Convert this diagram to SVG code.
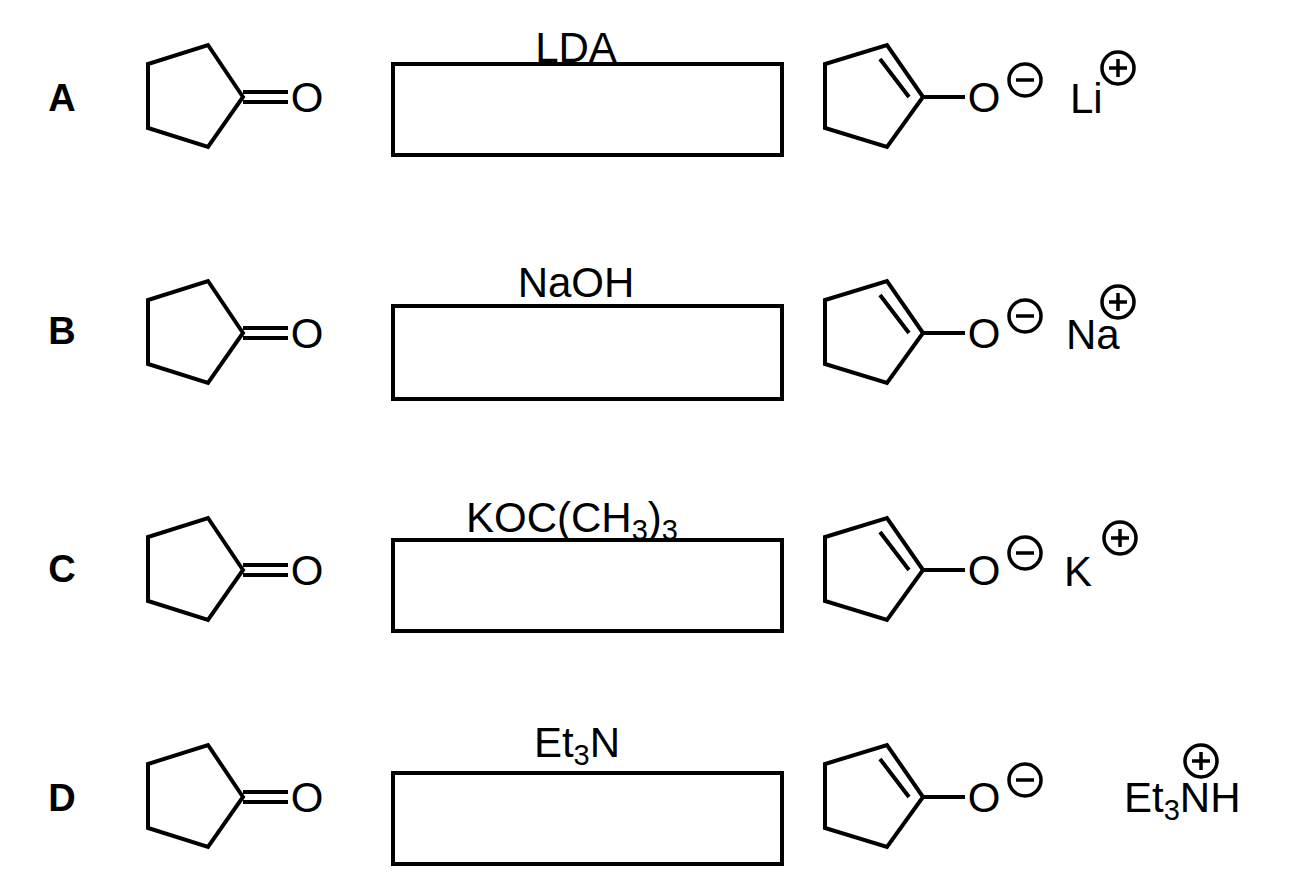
<svg xmlns="http://www.w3.org/2000/svg" width="1294" height="876" viewBox="0 0 1294 876">
<defs>
<style>
.b{fill:none;stroke:#000;stroke-width:4;stroke-linejoin:miter}
.t{font-family:"Liberation Sans",Arial,sans-serif;font-size:42px;fill:#000}
.l{font-family:"Liberation Sans",Arial,sans-serif;font-size:38px;font-weight:bold;fill:#000}
.c{fill:none;stroke:#000;stroke-width:3.5}
</style>
<g id="ketone">
<path class="b" d="M243,97 L208,45 L148,64 L148,128 L208,147 Z"/>
<path class="b" d="M243,92 H288 M243,102 H288"/>
<text class="t" x="307" y="112" text-anchor="middle">O</text>
</g>
<g id="enolate">
<path class="b" d="M923,97 L887,45 L825,64 L825,128 L887,147 Z M880,59 L909,97 M923,97 H965"/>
<text class="t" x="984" y="112" text-anchor="middle">O</text>
<circle class="c" cx="1025" cy="80" r="16"/>
<path class="c" d="M1016,80 H1034"/>
</g>
<g id="plus"><circle class="c" cx="0" cy="0" r="16"/><path class="c" d="M-9,0 H9 M0,-9 V9"/></g>
</defs>
<g id="rowA">
<text class="l" x="62" y="111" text-anchor="middle">A</text>
<use href="#ketone"/>
<rect class="b" x="393" y="64" width="389" height="91"/>
<text class="t" x="576" y="62" text-anchor="middle">LDA</text>
<use href="#enolate"/>
<text class="t" x="1070" y="113">Li</text>
<use href="#plus" x="1118" y="68"/>
</g>
<g id="rowB">
<text class="l" x="62" y="344" text-anchor="middle">B</text>
<use href="#ketone" y="236"/>
<rect class="b" x="393" y="306" width="389" height="93"/>
<text class="t" x="576" y="297" text-anchor="middle">NaOH</text>
<use href="#enolate" y="236"/>
<text class="t" x="1066" y="349">Na</text>
<use href="#plus" x="1118" y="302"/>
</g>
<g id="rowC">
<text class="l" x="62" y="582" text-anchor="middle">C</text>
<use href="#ketone" y="473"/>
<rect class="b" x="393" y="540" width="389" height="91"/>
<text class="t" x="466" y="532">KOC(CH<tspan font-size="29" dy="8">3</tspan><tspan dy="-8">)</tspan><tspan font-size="29" dy="8">3</tspan></text>
<use href="#enolate" y="473"/>
<text class="t" x="1064" y="586">K</text>
<use href="#plus" x="1120" y="538"/>
</g>
<g id="rowD">
<text class="l" x="62" y="811" text-anchor="middle">D</text>
<use href="#ketone" y="700"/>
<rect class="b" x="393" y="773" width="389" height="91"/>
<text class="t" x="577" y="757" text-anchor="middle">Et<tspan font-size="29" dy="8">3</tspan><tspan dy="-8">N</tspan></text>
<use href="#enolate" y="700"/>
<text class="t" x="1124" y="812">Et<tspan font-size="29" dy="8">3</tspan><tspan dy="-8">NH</tspan></text>
<use href="#plus" x="1201" y="761"/>
</g>
<g id="connectors"/>
</svg>
